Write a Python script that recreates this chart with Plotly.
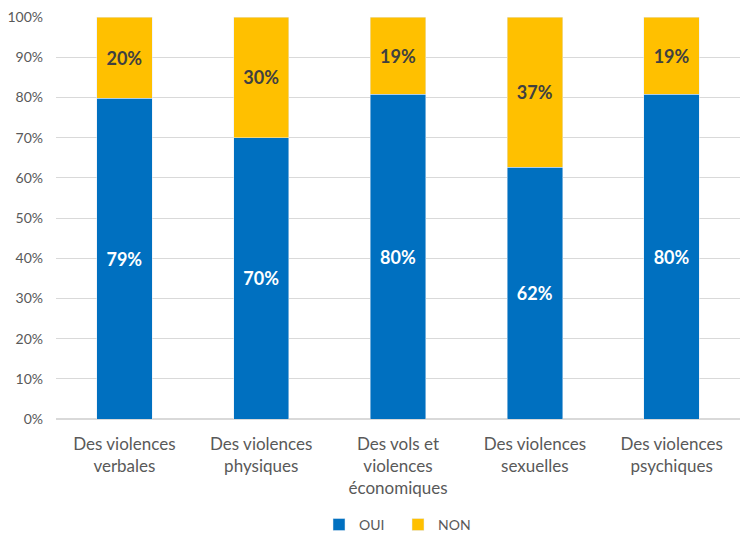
import plotly.graph_objects as go

categories = ["Des violences<br>verbales", "Des violences<br>physiques", "Des vols et<br>violences<br>économiques",
              "Des violences<br>sexuelles", "Des violences<br>psychiques"]
oui = [79, 70, 80, 62, 80]
non = [20, 30, 19, 37, 19]

fig = go.Figure()
fig.add_trace(go.Bar(x=categories, y=oui, name="OUI", marker_color="#0070C0",
                     text=[f"{v}%" for v in oui], textposition="inside", insidetextanchor="middle",
                     textfont=dict(color="white", size=18, family="Lato", weight="bold"),
                     constraintext="none"))
fig.add_trace(go.Bar(x=categories, y=non, name="NON", marker_color="#FFC000",
                     text=[f"{v}%" for v in non], textposition="inside", insidetextanchor="middle",
                     textfont=dict(color="#404040", size=18, family="Lato", weight="bold"),
                     constraintext="none"))

fig.update_layout(
    barmode="stack", barnorm="percent", bargap=0.595,
    width=742, height=534,
    margin=dict(l=56, r=2, t=17, b=115),
    plot_bgcolor="white", paper_bgcolor="white",
    font=dict(family="Lato", color="#595959"),
    legend=dict(orientation="h", x=0.5, xanchor="center", yref="container", y=0.017, yanchor="middle",
                font=dict(size=14, color="#595959"), traceorder="normal",
                entrywidth=34, entrywidthmode="pixels", itemwidth=30),
    showlegend=True,
)
fig.update_yaxes(range=[0, 100], dtick=10, ticksuffix="%", showgrid=True, gridcolor="#D9D9D9",
                 gridwidth=1, zeroline=True, zerolinecolor="#D9D9D9", tickfont=dict(size=14, color="#595959"),
                 ticks="", ticklabelstandoff=12, automargin=False)
fig.update_xaxes(tickfont=dict(size=17, color="#595959"), showline=False, ticks="",
                 ticklabelstandoff=13, automargin=False)

fig.write_html("out.html", config={"displayModeBar": False},
               post_script="document.body.style.margin='0';")
